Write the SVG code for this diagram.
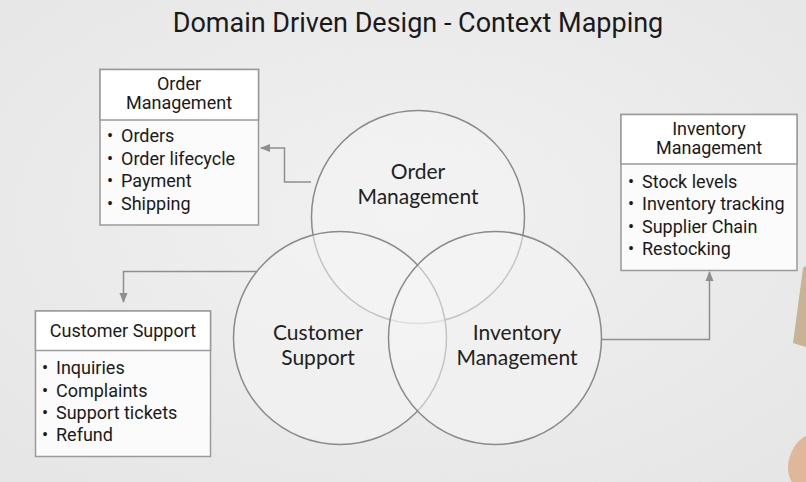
<svg xmlns="http://www.w3.org/2000/svg" width="806" height="482" viewBox="0 0 806 482">
<defs>
<radialGradient id="bg" cx="0.5" cy="0.45" r="0.7">
<stop offset="0" stop-color="#f1f1f1"/>
<stop offset="1" stop-color="#e6e6e6"/>
</radialGradient>
<marker id="arr" markerWidth="10" markerHeight="10" refX="9" refY="5" orient="auto" markerUnits="userSpaceOnUse">
<path d="M0,1 L10,5 L0,9 Z" fill="#8e8e8e"/>
</marker>
<style>
.title{font-family:Roboto,"Liberation Sans",sans-serif;font-size:27px;fill:#1a1a1a;text-anchor:middle}
.circ{fill:#f4f4f4;fill-opacity:0.55;stroke:#8a8a8a;stroke-width:1.5}
.ctext{font-family:Lato,"Open Sans",sans-serif;font-size:21px;fill:#222;text-anchor:middle}
.box{fill:#fbfbfb;stroke:#9a9a9a;stroke-width:1.5}
.hdr{fill:#ffffff;stroke:#9a9a9a;stroke-width:1.5}
.htext{font-family:Roboto,"Liberation Sans",sans-serif;font-size:18px;fill:#1a1a1a;text-anchor:middle}
.item{font-family:Roboto,"Liberation Sans",sans-serif;font-size:18px;fill:#1a1a1a}
.conn{fill:none;stroke:#8e8e8e;stroke-width:1.5}
</style>
</defs>
<rect width="806" height="482" fill="url(#bg)"/>
<text class="title" x="418" y="32">Domain Driven Design - Context Mapping</text>

<g id="venn">
<g id="circle-order">
<circle class="circ" cx="418" cy="217" r="106.5"/>
<text class="ctext" x="418" y="179">Order</text>
<text class="ctext" x="418" y="204">Management</text>
</g>
<g id="circle-customer">
<circle class="circ" cx="340" cy="338" r="106.5"/>
<text class="ctext" x="318" y="340">Customer</text>
<text class="ctext" x="318" y="365">Support</text>
</g>
<g id="circle-inventory">
<circle class="circ" cx="495" cy="338" r="106.5"/>
<text class="ctext" x="517" y="340">Inventory</text>
<text class="ctext" x="517" y="365">Management</text>
</g>
</g>

<g id="connectors">
<path class="conn" d="M311,182 H284.5 V148 H261" marker-end="url(#arr)"/>
<path class="conn" d="M257,271.5 H123.5 V302" marker-end="url(#arr)"/>
<path class="conn" d="M602,339.5 H709.5 V272" marker-end="url(#arr)"/>
</g>

<g id="box-order">
<rect class="box" x="100" y="69.5" width="158.5" height="155.5"/>
<rect class="hdr" x="100" y="69.5" width="158.5" height="50.5"/>
<text class="htext" x="179" y="90">Order</text>
<text class="htext" x="179" y="109">Management</text>
<text class="item" y="142"><tspan x="107">•</tspan><tspan x="121">Orders</tspan></text>
<text class="item" y="165"><tspan x="107">•</tspan><tspan x="121">Order lifecycle</tspan></text>
<text class="item" y="187"><tspan x="107">•</tspan><tspan x="121">Payment</tspan></text>
<text class="item" y="210"><tspan x="107">•</tspan><tspan x="121">Shipping</tspan></text>
</g>

<g id="box-inventory">
<rect class="box" x="621" y="114.5" width="176" height="156"/>
<rect class="hdr" x="621" y="114.5" width="176" height="49.5"/>
<text class="htext" x="709" y="135">Inventory</text>
<text class="htext" x="709" y="154">Management</text>
<text class="item" y="188"><tspan x="628">•</tspan><tspan x="642">Stock levels</tspan></text>
<text class="item" y="210"><tspan x="628">•</tspan><tspan x="642">Inventory tracking</tspan></text>
<text class="item" y="233"><tspan x="628">•</tspan><tspan x="642">Supplier Chain</tspan></text>
<text class="item" y="255"><tspan x="628">•</tspan><tspan x="642">Restocking</tspan></text>
</g>

<g id="box-customer">
<rect class="box" x="35.5" y="311" width="175" height="145.5"/>
<rect class="hdr" x="35.5" y="311" width="175" height="39.5"/>
<text class="htext" x="123" y="337">Customer Support</text>
<text class="item" y="374"><tspan x="42">•</tspan><tspan x="56">Inquiries</tspan></text>
<text class="item" y="397"><tspan x="42">•</tspan><tspan x="56">Complaints</tspan></text>
<text class="item" y="419"><tspan x="42">•</tspan><tspan x="56">Support tickets</tspan></text>
<text class="item" y="441"><tspan x="42">•</tspan><tspan x="56">Refund</tspan></text>
</g>

<path d="M803,268 L806,266 L806,347 L793,343 Z" fill="#c8b397"/>
<path d="M806,436 C797,440 789,452 788,466 C788,474 790,480 792,482 L806,482 Z" fill="#dfb79b"/>
</svg>
